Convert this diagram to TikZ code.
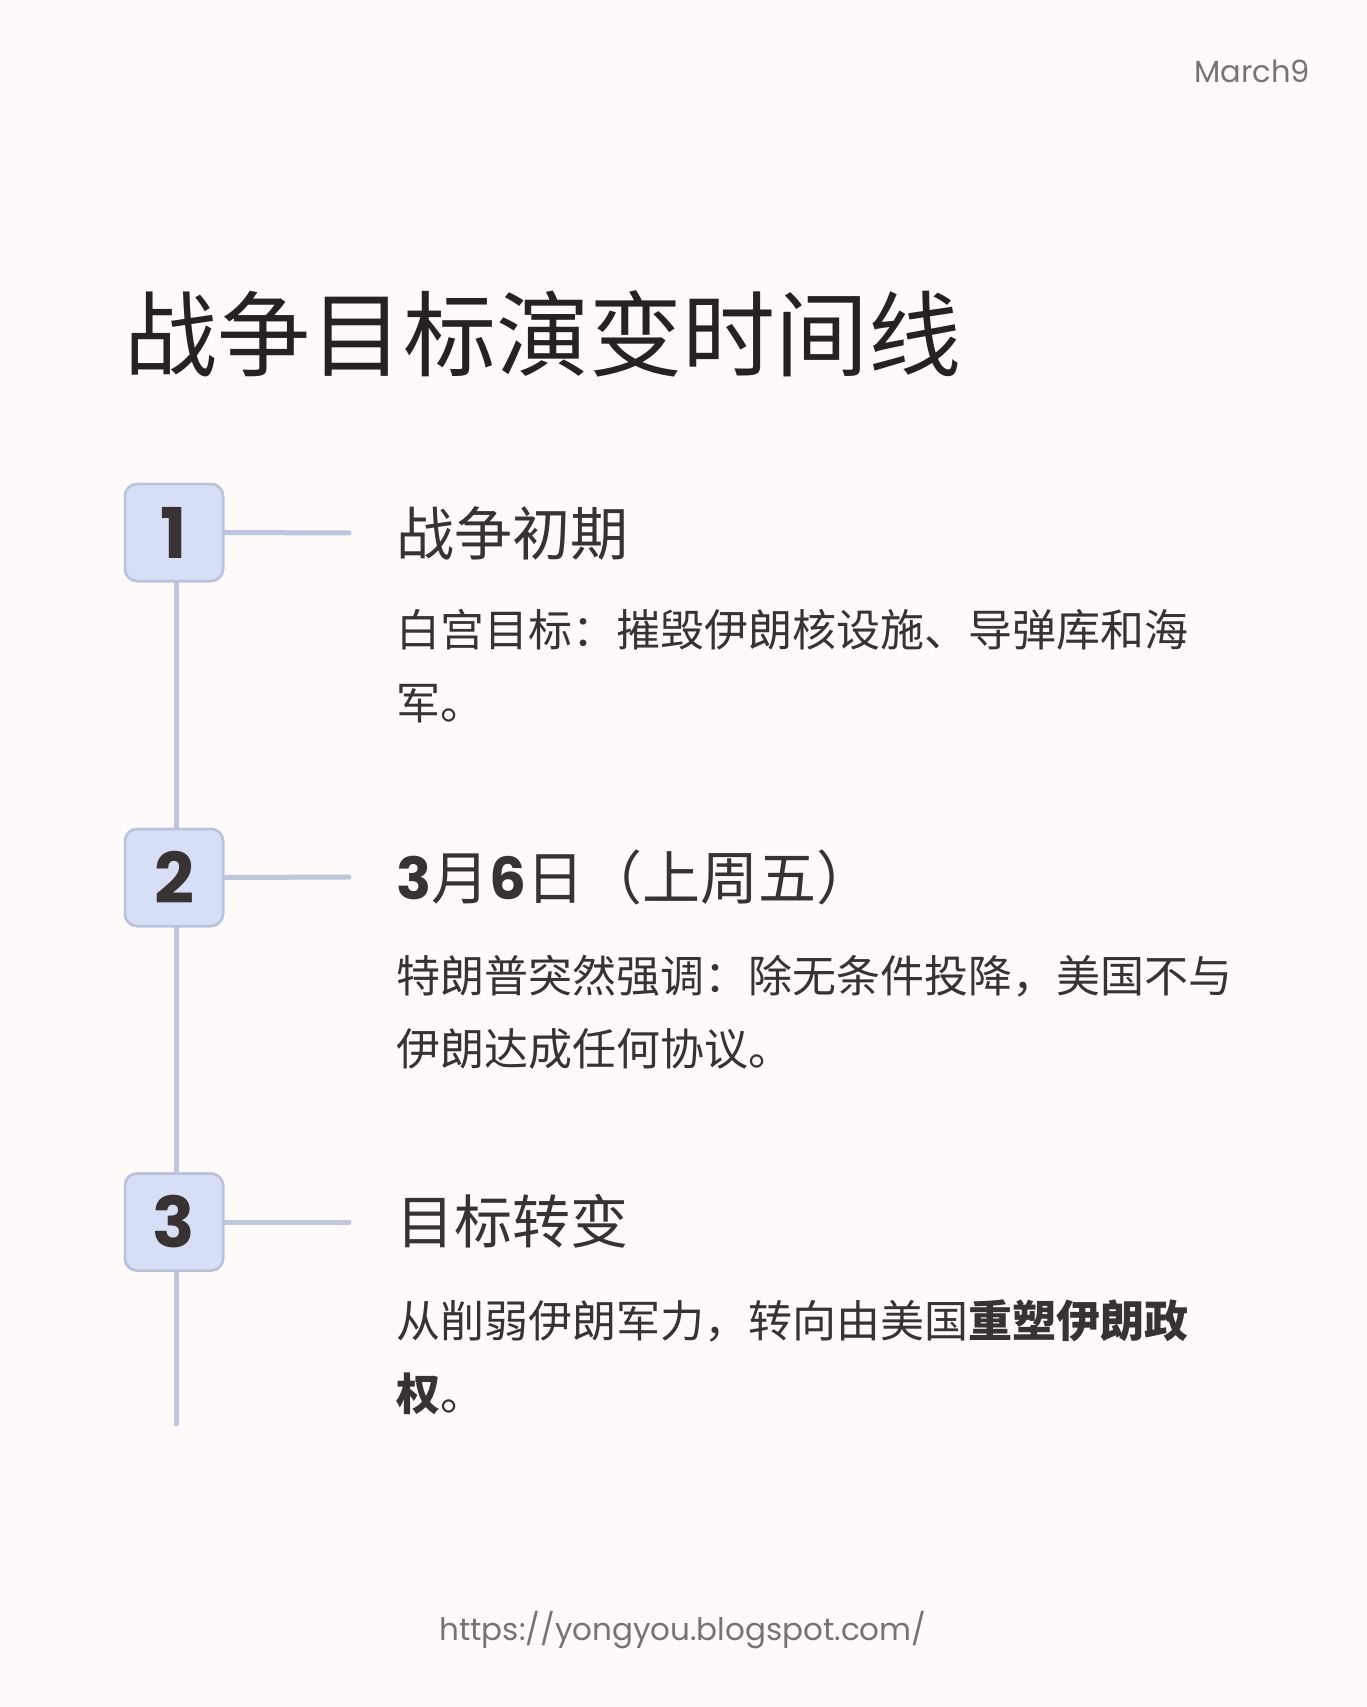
\documentclass[tikz,border=0pt]{standalone}
\usepackage{fontspec}
\setmainfont{Noto Sans CJK SC}
\newfontfamily\cjk{Noto Sans CJK SC}
\newfontfamily\latin{Poppins}
\newfontfamily\numf{Poppins}
\definecolor{bg}{HTML}{FDFAF9}
\definecolor{boxfill}{HTML}{D6DFF6}
\definecolor{boxline}{HTML}{BAC3DC}
\definecolor{tl}{HTML}{BEC7DF}
\definecolor{ink}{HTML}{383233}
\definecolor{titleink}{HTML}{262223}
\definecolor{greyt}{HTML}{777372}
\begin{document}
\begin{tikzpicture}[x=1pt,y=-1pt,
  badge/.style={draw=boxline,fill=boxfill,line width=2.5pt,rounded corners=12pt,minimum width=98pt,minimum height=97pt,inner sep=0pt,text=ink,font=\numf\bfseries\fontsize{70}{70}\selectfont},
  tline/.style={draw=tl,line width=5pt},
  head/.style={anchor=base west,inner sep=0pt,text=ink,font=\cjk\fontsize{58}{70}\selectfont},
  body/.style={anchor=base west,inner sep=0pt,text=ink,align=left,font=\cjk\fontsize{44}{73}\selectfont}]
\fill[bg] (0,0) rectangle (1366,1707);
\useasboundingbox (0,0) rectangle (1366,1707);
\node[anchor=base east,inner sep=0pt,text=greyt,font=\latin\fontsize{30.5}{30.5}\selectfont] (mark) at (1310,83) {March9};
\node[anchor=base west,inner sep=0pt,text=titleink,font=\cjk\fontsize{93}{100}\selectfont] (title) at (124,369) {战争目标演变时间线};
\node[badge] (b1) at (174,532.5) {1};
\node[badge] (b2) at (174,877.5) {2};
\node[badge] (b3) at (174,1222) {3};
\coordinate (h1) at (349,533);
\coordinate (h2) at (349,877);
\coordinate (h3) at (349,1222);
\coordinate (end) at (176,1424);
\draw[tline] (176,581) -- (176,829);
\draw[tline] (176,926) -- (176,1173.5);
\draw[tline,line cap=round] (176,1271) -- (end);
\draw[tline,line cap=round] (b1.east) -- (h1);
\draw[tline,line cap=round] (b2.east) -- (h2);
\draw[tline,line cap=round] (b3.east) -- (h3);
\node[badge] at (b1) {1};
\node[badge] at (b2) {2};
\node[badge] at (b3) {3};
\node[head] (t1) at (396,555) {战争初期};
\node[body] (d1) at (396,719) {白宫目标：摧毁伊朗核设施、导弹库和海\\军。};
\node[head] (t2) at (396,899) {{\numf\bfseries 3}月{\numf\bfseries 6}日（上周五）};
\node[body] (d2) at (396,1065) {特朗普突然强调：除无条件投降，美国不与\\伊朗达成任何协议。};
\node[head] (t3) at (396,1243) {目标转变};
\node[body] (d3) at (396,1410) {从削弱伊朗军力，转向由美国\textbf{重塑伊朗政}\\\textbf{权}。};
\node[anchor=base,inner sep=0pt,text=greyt,font=\latin\fontsize{31}{31}\selectfont] (url) at (683,1640) {https://yongyou.blogspot.com/};
\end{tikzpicture}
\end{document}
